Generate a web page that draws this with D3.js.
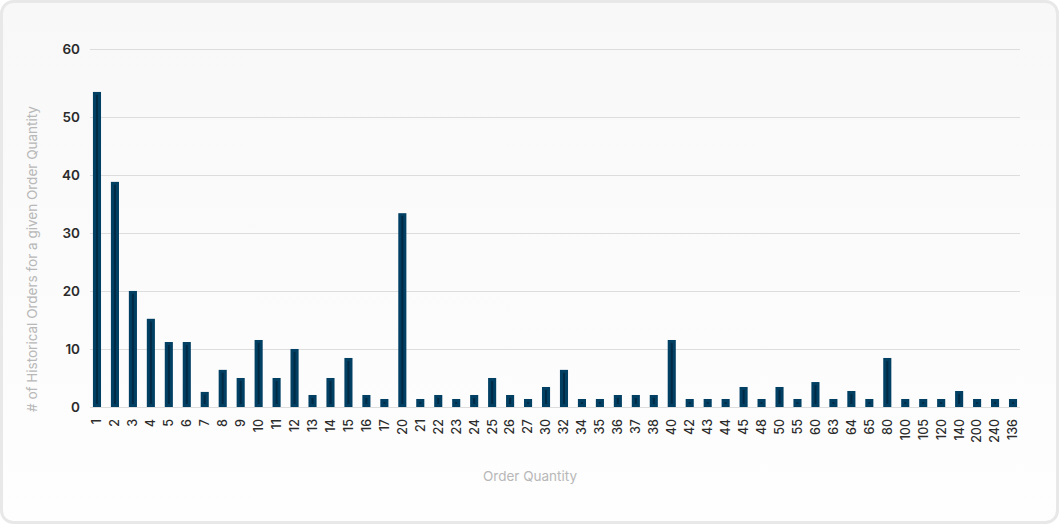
<!DOCTYPE html>
<html>
<head>
<meta charset="utf-8">
<script src="https://cdn.jsdelivr.net/npm/d3@7"></script>
<style>
  html, body { margin: 0; padding: 0; background: #ffffff; }
  svg { display: block; }
</style>
</head>
<body>
<svg id="chart" width="1060" height="525"></svg>
<script>
// ---- data ----
const categories = ["1","2","3","4","5","6","7","8","9","10","11","12","13","14","15","16","17",
  "20","21","22","23","24","25","26","27","30","32","34","35","36","37","38","40","42","43","44",
  "45","48","50","55","60","63","64","65","80","100","105","120","140","200","240","136"];
const orderCounts = [54.3, 38.8, 20.0, 15.2, 11.2, 11.2, 2.6, 6.4, 5.0, 11.55, 5.0, 10.0, 2.07, 5.0, 8.45, 2.07, 1.38,
  33.4, 1.38, 2.07, 1.38, 2.07, 5.0, 2.07, 1.38, 3.45, 6.4, 1.38, 1.38, 2.07, 2.07, 2.07, 11.55, 1.38, 1.38, 1.38,
  3.45, 1.38, 3.45, 1.38, 4.3, 1.38, 2.76, 1.38, 8.45, 1.38, 1.38, 1.38, 2.76, 1.38, 1.38, 1.38];
const yTickValues = [0, 10, 20, 30, 40, 50, 61.7];
const yTickLabels = ["0", "10", "20", "30", "40", "50", "60"];
const yAxisTitle = "# of Historical Orders for a given Order Quantity";
const xAxisTitle = "Order Quantity";

// ---- drawing ----
const svg = d3.select("#chart");
const defs = svg.append("defs");
const grad = defs.append("linearGradient").attr("id", "cardbg").attr("x1", 0).attr("y1", 0).attr("x2", 0).attr("y2", 1);
grad.append("stop").attr("offset", "0%").attr("stop-color", "#f8f8f8");
grad.append("stop").attr("offset", "100%").attr("stop-color", "#fefefe");

svg.append("rect").attr("x", 0).attr("y", 0).attr("width", 1060).attr("height", 525).attr("fill", "#ffffff");
svg.append("rect")
  .attr("x", 1.5).attr("y", 1.5).attr("width", 1056).attr("height", 521)
  .attr("rx", 12).attr("ry", 12)
  .attr("fill", "url(#cardbg)")
  .attr("stroke", "#e8e8e8").attr("stroke-width", 3);

const plotLeft = 90, plotRight = 1020, plotTop = 49, plotBottom = 407;

const x = d3.scaleBand().domain(categories).range([88, 1022]).paddingInner(0.55).paddingOuter(0.275);
const y = d3.scaleLinear().domain([0, 61.7]).range([plotBottom, plotTop]);

// gridlines
svg.append("g").selectAll("line").data(yTickValues).join("line")
  .attr("x1", plotLeft).attr("x2", plotRight)
  .attr("y1", d => Math.round(y(d)) + 0.5).attr("y2", d => Math.round(y(d)) + 0.5)
  .attr("stroke", "#dddddd").attr("stroke-width", 1);

// y axis labels
const yAxis = d3.axisLeft(y).tickValues(yTickValues).tickSize(0).tickPadding(0)
  .tickFormat((d, i) => yTickLabels[i]);
const yg = svg.append("g").attr("transform", "translate(80,0)").call(yAxis);
yg.select(".domain").remove();
yg.selectAll("text")
  .attr("font-family", "Inter, 'DejaVu Sans', sans-serif")
  .attr("font-size", 13.5).attr("font-weight", 600).attr("fill", "#2b2b2b")
  .attr("dy", "0.35em");

// bars
const barW = x.bandwidth();
svg.append("g").selectAll("rect").data(orderCounts).join("rect")
  .attr("x", (d, i) => x(categories[i]))
  .attr("y", d => y(d))
  .attr("width", barW)
  .attr("height", d => y(0) - y(d))
  .attr("fill", "#013f63");

// inner darker strokes
svg.append("g").selectAll("rect").data(orderCounts).join("rect")
  .attr("x", (d, i) => x(categories[i]) + barW / 2 - 1)
  .attr("y", d => y(d) + 3)
  .attr("width", 2)
  .attr("height", d => Math.max(0, y(0) - y(d) - 6))
  .attr("fill", "#012a45");

// x axis labels
const xAxis = d3.axisBottom(x).tickSize(0).tickPadding(0);
const xg = svg.append("g").attr("transform", `translate(0,${plotBottom + 12})`).call(xAxis);
xg.select(".domain").remove();
xg.selectAll("text")
  .attr("font-family", "Inter, 'DejaVu Sans', sans-serif")
  .attr("font-size", 12.5).attr("font-weight", 500).attr("fill", "#2b2b2b")
  .attr("text-anchor", "end")
  .attr("transform", "rotate(-90)")
  .attr("x", 0).attr("y", 0)
  .attr("dx", 0).attr("dy", "0.35em");

// axis titles
svg.append("text")
  .attr("transform", `translate(37,259) rotate(-90)`)
  .attr("text-anchor", "middle")
  .attr("font-family", "Inter, 'DejaVu Sans', sans-serif")
  .attr("font-size", 13.5).attr("fill", "#b8b8b8")
  .text(yAxisTitle);

svg.append("text")
  .attr("x", (plotLeft + plotRight) / 2 - 25).attr("y", 481)
  .attr("text-anchor", "middle")
  .attr("font-family", "Inter, 'DejaVu Sans', sans-serif")
  .attr("font-size", 13.5).attr("fill", "#b8b8b8")
  .text(xAxisTitle);
</script>
</body>
</html>
